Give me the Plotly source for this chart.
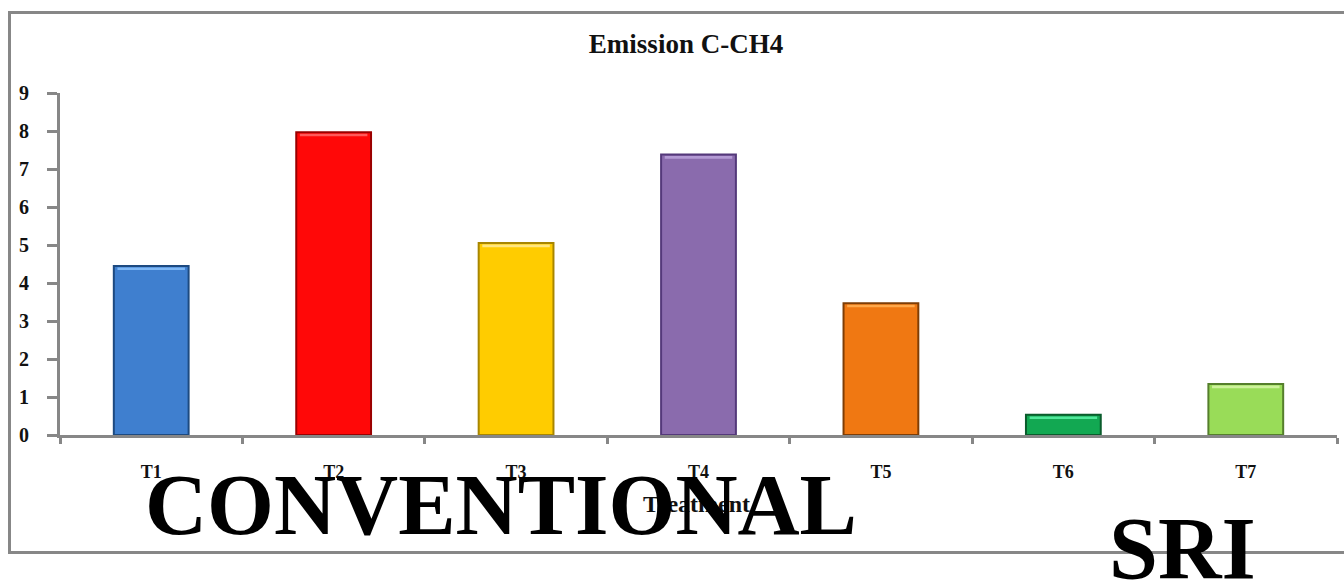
import plotly.graph_objects as go

# Methane emission per treatment
treatments = ["T1", "T2", "T3", "T4", "T5", "T6", "T7"]
emission = [4.45, 7.97, 5.05, 7.38, 3.47, 0.53, 1.34]
y_ticks = [0, 1, 2, 3, 4, 5, 6, 7, 8, 9]

fill_colors = ["#3f7fcf", "#ff0808", "#ffcc00", "#8a6bad", "#f07812", "#12a852", "#99dc58"]
edge_colors = ["#1d4a80", "#9a0000", "#a88600", "#54397a", "#7e3d05", "#0a5c2c", "#557f2c"]
shine_colors = ["#7fb8f5", "#ff5a5a", "#ffe680", "#b39ad4", "#ffa84a", "#4fe89a", "#cdf29a"]

AXIS_GREY = "#878787"
SERIF = "Liberation Serif"

fig = go.Figure()

fig.add_trace(go.Bar(
    x=treatments, y=emission, width=0.41,
    marker=dict(color=fill_colors, line=dict(color=edge_colors, width=2)),
    hoverinfo="x+y", showlegend=False,
))

# thin lighter band along each bar top for the bevelled look
band = 0.07
fig.add_trace(go.Bar(
    x=treatments, y=[band] * len(emission), base=[v - band - 0.04 for v in emission],
    width=0.37, marker=dict(color=shine_colors, line=dict(width=0)),
    hoverinfo="skip", showlegend=False,
))

fig.update_layout(
    width=1344, height=581,
    margin=dict(l=60, r=7, t=93, b=146),
    paper_bgcolor="white", plot_bgcolor="white",
    barmode="overlay",
    title=dict(
        text="Emission C-CH4", x=686 / 1344, y=1 - 44 / 581,
        xanchor="center", yanchor="middle",
        font=dict(family=SERIF, size=27, color="#111", weight="bold"),
    ),
    xaxis=dict(
        showline=True, linecolor=AXIS_GREY, linewidth=3,
        ticks="outside", tickson="boundaries", ticklen=6, tickwidth=3, tickcolor=AXIS_GREY,
        tickfont=dict(family=SERIF, size=18, color="#111", weight="bold"),
        ticklabelstandoff=18, showgrid=False, zeroline=False,
    ),
    yaxis=dict(
        range=[0, 9], tickvals=y_ticks,
        showline=True, linecolor=AXIS_GREY, linewidth=3,
        ticks="outside", ticklen=10, tickwidth=3, tickcolor=AXIS_GREY,
        tickfont=dict(family=SERIF, size=20, color="#111", weight="bold"),
        ticklabelstandoff=14, showgrid=False, zeroline=False,
    ),
    showlegend=False,
)

# outer frame (right side runs off the page)
px_w, px_h = 1277, 342
def px_x(px):
    return (px - 60) / px_w
def px_y(py):
    return (435 - py) / px_h

frame = dict(type="line", xref="paper", yref="paper", line=dict(color=AXIS_GREY, width=3))
fig.add_shape(**frame, x0=px_x(9.5), x1=px_x(9.5), y0=px_y(11), y1=px_y(554))
fig.add_shape(**frame, x0=px_x(8), x1=1.2, y0=px_y(12.5), y1=px_y(12.5))
fig.add_shape(**frame, x0=px_x(8), x1=1.2, y0=px_y(552.5), y1=px_y(552.5))

fig.add_annotation(
    text="Treatment", xref="paper", yref="paper", x=px_x(696), y=px_y(504),
    showarrow=False, xanchor="center", yanchor="middle",
    font=dict(family=SERIF, size=24, color="#111", weight="bold"),
)
fig.add_annotation(
    text="CONVENTIONAL", xref="paper", yref="paper", x=px_x(501), y=px_y(505),
    showarrow=False, xanchor="center", yanchor="middle",
    font=dict(family=SERIF, size=86, color="black", weight="bold"),
)
fig.add_annotation(
    text="SRI", xref="paper", yref="paper", x=px_x(1182), y=px_y(548),
    showarrow=False, xanchor="center", yanchor="middle",
    font=dict(family=SERIF, size=88, color="black", weight="bold"),
)

fig.write_html("out.html")
